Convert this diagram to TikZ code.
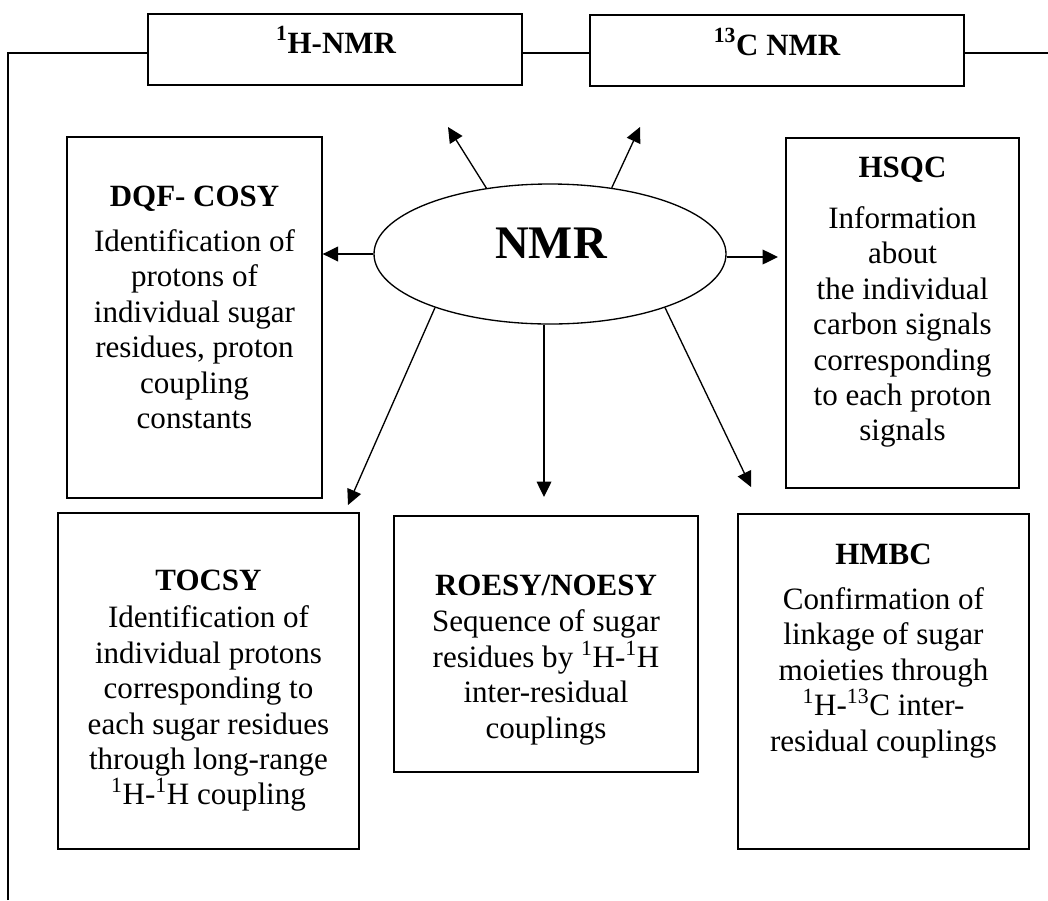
\documentclass[tikz,border=0pt]{standalone}
\usepackage{fontspec}
\setmainfont{Liberation Serif}
\usetikzlibrary{arrows.meta,fit,shapes.geometric}
\begin{document}
\begin{tikzpicture}[x=0.75pt,y=-0.75pt,
  frame/.style={draw=black,line width=1pt},
  box/.style={draw=black,line width=1pt,inner sep=0pt},
  ttl/.style={font=\fontsize{23.2}{26.6}\selectfont\bfseries,anchor=base,inner sep=0pt},
  bodytxt/.style={font=\fontsize{23.3}{26.6}\selectfont,anchor=north,align=center,inner sep=0pt},
  arr/.style={line width=1pt,-{Triangle[length=11.5pt,width=11pt]}}]
\useasboundingbox (0,0) rectangle (1048,900);

% top boxes
\node[box,fit={(148,14) (522,85)}] (h1) {};
\node[box,fit={(590,15) (964,86)}] (c13) {};
\node[ttl] (h1t) at (336,53) {\textsuperscript{1}H-NMR};
\node[ttl] (c13t) at (777,55) {\textsuperscript{13}C NMR};

% frame lines
\coordinate (ftop) at (8,53);
\coordinate (fbot) at (8,900);
\coordinate (fright) at (1048,53);
\draw[frame] (fbot) -- (ftop) -- (ftop -| h1.west);
\draw[frame] (ftop -| h1.east) -- (ftop -| c13.west);
\draw[frame] (ftop -| c13.east) -- (fright);

% DQF-COSY
\node[box,fit={(67,137) (322,498)}] (dqf) {};
\node[ttl] (dqft) at (194.5,206) {DQF- COSY};
\node[bodytxt] (dqfb) at (194.5,229) {Identification of\\protons of\\individual sugar\\residues, proton\\coupling\\constants};

% HSQC
\node[box,fit={(786,138) (1019,488)}] (hsqc) {};
\node[ttl] (hsqct) at (902.5,177) {HSQC};
\node[bodytxt] (hsqcb) at (902.5,206) {Information\\about\\the individual\\carbon signals\\corresponding\\to each proton\\signals};

% TOCSY
\node[box,fit={(58,513) (359,849)}] (tocsy) {};
\node[ttl] (tocsyt) at (208.5,590) {TOCSY};
\node[bodytxt] (tocsyb) at (208.5,605.5) {Identification of\\individual protons\\corresponding to\\each sugar residues\\through long-range\\\textsuperscript{1}H-\textsuperscript{1}H coupling};

% ROESY/NOESY
\node[box,fit={(394,516) (698,772)}] (roesy) {};
\node[ttl] (roesyt) at (546,595) {ROESY/NOESY};
\node[bodytxt] (roesyb) at (546,609.5) {Sequence of sugar\\residues by \textsuperscript{1}H-\textsuperscript{1}H\\inter-residual\\couplings};

% HMBC
\node[box,fit={(738,514) (1029,849)}] (hmbc) {};
\node[ttl] (hmbct) at (883.5,564) {HMBC};
\node[bodytxt] (hmbcb) at (883.5,587) {Confirmation of\\linkage of sugar\\moieties through\\\textsuperscript{1}H-\textsuperscript{13}C inter-\\residual couplings};

% central ellipse
\node[draw=black,line width=1pt,ellipse,minimum width=264pt,minimum height=105pt,inner sep=0pt] (nmr) at (550,254) {};
\node[font=\fontsize{35}{40}\selectfont\bfseries,anchor=base,inner sep=0pt] (nmrt) at (551,258) {NMR};

% arrows
\coordinate (tipH) at (448,127);
\coordinate (tipC) at (640,127);
\coordinate (tipS) at (778,257);
\coordinate (tipT) at (348,505);
\coordinate (tipR) at (544,497);
\coordinate (tipM) at (751,487);
\draw[arr] (nmr.134) -- (tipH);
\draw[arr] (nmr.47) -- (tipC);
\draw[arr] (nmr.west) -- (nmr.west -| dqf.east);
\draw[arr] (nmr.east |- tipS) -- (tipS);
\draw[arr] (nmr.205) -- (tipT);
\draw[arr] (nmr.south -| tipR) -- (tipR);
\draw[arr] (nmr.335) -- (tipM);
\end{tikzpicture}
\end{document}
